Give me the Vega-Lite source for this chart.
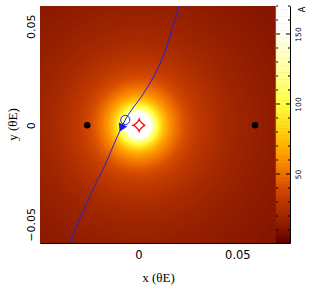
{
  "$schema": "https://vega.github.io/schema/vega-lite/v6.json",
  "width": 250,
  "height": 237,
  "autosize": {"type": "none"},
  "padding": {"left": 40, "top": 6, "right": 23, "bottom": 48},
  "background": "white",
  "config": {
    "view": {"stroke": "black", "strokeWidth": 1},
    "axis": {"domain": false, "grid": false, "ticks": false, "labelColor": "black", "titleColor": "black", "labelFont": "DejaVu Sans", "titleFont": "Liberation Serif", "titleFontWeight": "normal", "labelFlush": false}
  },
  "datasets": {
    "rings": [
      {"x":0,"y":0,"r":0.1,"A":10},{"x":0,"y":0,"r":0.0909,"A":11},{"x":0,"y":0,"r":0.0833,"A":12},{"x":0,"y":0,"r":0.0769,"A":13},{"x":0,"y":0,"r":0.0714,"A":14},{"x":0,"y":0,"r":0.0667,"A":15},{"x":0,"y":0,"r":0.0625,"A":16},{"x":0,"y":0,"r":0.0588,"A":17},{"x":0,"y":0,"r":0.0556,"A":18},{"x":0,"y":0,"r":0.0526,"A":19},{"x":0,"y":0,"r":0.05,"A":20},{"x":0,"y":0,"r":0.0476,"A":21},{"x":0,"y":0,"r":0.0455,"A":22},{"x":0,"y":0,"r":0.0435,"A":23},{"x":0,"y":0,"r":0.0417,"A":24},{"x":0,"y":0,"r":0.04,"A":25},{"x":0,"y":0,"r":0.0385,"A":26},{"x":0,"y":0,"r":0.037,"A":27},{"x":0,"y":0,"r":0.0357,"A":28},{"x":0,"y":0,"r":0.0345,"A":29},{"x":0,"y":0,"r":0.0333,"A":30},{"x":0,"y":0,"r":0.0313,"A":32},{"x":0,"y":0,"r":0.0294,"A":34},{"x":0,"y":0,"r":0.0278,"A":36},{"x":0,"y":0,"r":0.0263,"A":38},{"x":0,"y":0,"r":0.025,"A":40},{"x":0,"y":0,"r":0.0238,"A":42},{"x":0,"y":0,"r":0.0227,"A":44},{"x":0,"y":0,"r":0.0217,"A":46},{"x":0,"y":0,"r":0.0208,"A":48},{"x":0,"y":0,"r":0.02,"A":50},{"x":0,"y":0,"r":0.0192,"A":52},{"x":0,"y":0,"r":0.0185,"A":54},{"x":0,"y":0,"r":0.0179,"A":56},{"x":0,"y":0,"r":0.0172,"A":58},{"x":0,"y":0,"r":0.0167,"A":60},{"x":0,"y":0,"r":0.0159,"A":63},{"x":0,"y":0,"r":0.0152,"A":66},{"x":0,"y":0,"r":0.0145,"A":69},{"x":0,"y":0,"r":0.0139,"A":72},{"x":0,"y":0,"r":0.0133,"A":75},{"x":0,"y":0,"r":0.0128,"A":78},{"x":0,"y":0,"r":0.0123,"A":81},{"x":0,"y":0,"r":0.0119,"A":84},{"x":0,"y":0,"r":0.0115,"A":87},{"x":0,"y":0,"r":0.0111,"A":90},{"x":0,"y":0,"r":0.0106,"A":94},{"x":0,"y":0,"r":0.0102,"A":98},{"x":0,"y":0,"r":0.0098,"A":102},{"x":0,"y":0,"r":0.0094,"A":106},{"x":0,"y":0,"r":0.0091,"A":110},{"x":0,"y":0,"r":0.0087,"A":115},{"x":0,"y":0,"r":0.0083,"A":120},{"x":0,"y":0,"r":0.008,"A":125},{"x":0,"y":0,"r":0.0077,"A":130},{"x":0,"y":0,"r":0.0074,"A":136},{"x":0,"y":0,"r":0.007,"A":142},{"x":0,"y":0,"r":0.0068,"A":148},{"x":0,"y":0,"r":0.0065,"A":155},{"x":0,"y":0,"r":0.0062,"A":162},{"x":0,"y":0,"r":0.0059,"A":170}
    ],
    "traj": [
      {"x":-0.0358,"y":-0.062},{"x":-0.03485,"y":-0.0596},{"x":-0.02919,"y":-0.04631},{"x":-0.02465,"y":-0.03621},{"x":-0.02061,"y":-0.02763},{"x":-0.01682,"y":-0.02005},{"x":-0.01354,"y":-0.01247},{"x":-0.01136,"y":-0.00742},{"x":-0.00909,"y":-0.00237},{"x":-0.00662,"y":0.00268},{"x":-0.00343,"y":0.00773},{"x":0.00035,"y":0.01278},{"x":0.00465,"y":0.01934},{"x":0.00944,"y":0.02793},{"x":0.01374,"y":0.038},{"x":0.01727,"y":0.04965},{"x":0.0203,"y":0.06025},{"x":0.0206,"y":0.062}
    ],
    "caus": [
      {"i":0,"x":0.0035,"y":0},{"i":1,"x":0.0028,"y":0.00025},{"i":2,"x":0.00164,"y":0.00124},{"i":3,"x":0.00065,"y":0.0024},{"i":4,"x":0.0004,"y":0.0031},{"i":5,"x":0.00015,"y":0.0024},{"i":6,"x":-0.00084,"y":0.00124},{"i":7,"x":-0.002,"y":0.00025},{"i":8,"x":-0.0027,"y":0},{"i":9,"x":-0.002,"y":-0.00025},{"i":10,"x":-0.00084,"y":-0.00124},{"i":11,"x":0.00015,"y":-0.0024},{"i":12,"x":0.0004,"y":-0.0031},{"i":13,"x":0.00065,"y":-0.0024},{"i":14,"x":0.00164,"y":-0.00124},{"i":15,"x":0.0028,"y":-0.00025},{"i":16,"x":0.0035,"y":0}
    ],
    "lens": [{"x":-0.0258,"y":0},{"x":0.0589,"y":0}],
    "src": [{"x":-0.0066,"y":0.0027}],
    "arr": [{"x":-0.0086,"y":-0.0014}],
    "xt": [{"x":-0.04},{"x":-0.03},{"x":-0.02},{"x":-0.01},{"x":0},{"x":0.01},{"x":0.02},{"x":0.03},{"x":0.04},{"x":0.05},{"x":0.06},{"x":0.07}],
    "yt": [{"y":-0.05},{"y":-0.04},{"y":-0.03},{"y":-0.02},{"y":-0.01},{"y":0},{"y":0.01},{"y":0.02},{"y":0.03},{"y":0.04},{"y":0.05}],
    "cbar": [
      {"a0":0,"a1":2.5,"a":1.25},{"a0":2.5,"a1":5,"a":3.75},{"a0":5,"a1":7.5,"a":6.25},{"a0":7.5,"a1":10,"a":8.75},{"a0":10,"a1":12.5,"a":11.25},{"a0":12.5,"a1":15,"a":13.75},{"a0":15,"a1":17.5,"a":16.25},{"a0":17.5,"a1":20,"a":18.75},{"a0":20,"a1":22.5,"a":21.25},{"a0":22.5,"a1":25,"a":23.75},{"a0":25,"a1":27.5,"a":26.25},{"a0":27.5,"a1":30,"a":28.75},{"a0":30,"a1":32.5,"a":31.25},{"a0":32.5,"a1":35,"a":33.75},{"a0":35,"a1":37.5,"a":36.25},{"a0":37.5,"a1":40,"a":38.75},{"a0":40,"a1":42.5,"a":41.25},{"a0":42.5,"a1":45,"a":43.75},{"a0":45,"a1":47.5,"a":46.25},{"a0":47.5,"a1":50,"a":48.75},{"a0":50,"a1":52.5,"a":51.25},{"a0":52.5,"a1":55,"a":53.75},{"a0":55,"a1":57.5,"a":56.25},{"a0":57.5,"a1":60,"a":58.75},{"a0":60,"a1":62.5,"a":61.25},{"a0":62.5,"a1":65,"a":63.75},{"a0":65,"a1":67.5,"a":66.25},{"a0":67.5,"a1":70,"a":68.75},{"a0":70,"a1":72.5,"a":71.25},{"a0":72.5,"a1":75,"a":73.75},{"a0":75,"a1":77.5,"a":76.25},{"a0":77.5,"a1":80,"a":78.75},{"a0":80,"a1":82.5,"a":81.25},{"a0":82.5,"a1":85,"a":83.75},{"a0":85,"a1":87.5,"a":86.25},{"a0":87.5,"a1":90,"a":88.75},{"a0":90,"a1":92.5,"a":91.25},{"a0":92.5,"a1":95,"a":93.75},{"a0":95,"a1":97.5,"a":96.25},{"a0":97.5,"a1":100,"a":98.75},{"a0":100,"a1":102.5,"a":101.25},{"a0":102.5,"a1":105,"a":103.75},{"a0":105,"a1":107.5,"a":106.25},{"a0":107.5,"a1":110,"a":108.75},{"a0":110,"a1":112.5,"a":111.25},{"a0":112.5,"a1":115,"a":113.75},{"a0":115,"a1":117.5,"a":116.25},{"a0":117.5,"a1":120,"a":118.75},{"a0":120,"a1":122.5,"a":121.25},{"a0":122.5,"a1":125,"a":123.75},{"a0":125,"a1":127.5,"a":126.25},{"a0":127.5,"a1":130,"a":128.75},{"a0":130,"a1":132.5,"a":131.25},{"a0":132.5,"a1":135,"a":133.75},{"a0":135,"a1":137.5,"a":136.25},{"a0":137.5,"a1":140,"a":138.75},{"a0":140,"a1":142.5,"a":141.25},{"a0":142.5,"a1":145,"a":143.75},{"a0":145,"a1":147.5,"a":146.25},{"a0":147.5,"a1":150,"a":148.75},{"a0":150,"a1":152.5,"a":151.25},{"a0":152.5,"a1":155,"a":153.75},{"a0":155,"a1":157.5,"a":156.25},{"a0":157.5,"a1":160,"a":158.75},{"a0":160,"a1":162.5,"a":161.25},{"a0":162.5,"a1":165,"a":163.75},{"a0":165,"a1":167.5,"a":166.25},{"a0":167.5,"a1":170,"a":168.75}
    ],
    "cbt": [{"a0":10},{"a0":20},{"a0":30},{"a0":40},{"a0":50},{"a0":60},{"a0":70},{"a0":80},{"a0":90},{"a0":100},{"a0":110},{"a0":120},{"a0":130},{"a0":140},{"a0":150},{"a0":160},{"a0":170}]
  },
  "layer": [
    {
      "encoding": {
        "x": {"field": "x", "type": "quantitative", "scale": {"domain": [-0.04965, 0.07657], "nice": false, "zero": false},
              "axis": {"orient": "bottom", "values": [0, 0.05], "format": ".2~f", "labelPadding": 6, "labelFontSize": 11.5, "title": "x (θE)", "titleFontSize": 13, "titleX": 118, "titleY": 34, "titleAlign": "center", "titleBaseline": "middle"}},
        "y": {"field": "y", "type": "quantitative", "scale": {"domain": [-0.05945, 0.06025], "nice": false, "zero": false},
              "axis": {"orient": "left", "values": [-0.05, 0, 0.05], "format": ".2~f", "labelAngle": -90, "labelAlign": "center", "labelBaseline": "bottom", "labelPadding": 4, "labelFontSize": 11, "title": "y (θE)", "titleFontSize": 13, "titleAngle": -90, "titleX": -28, "titleY": 118, "titleAlign": "center", "titleBaseline": "middle"}}
      },
      "layer": [
        {
          "data": {"name": "rings"},
          "mark": {"type": "circle", "clip": true, "opacity": 1, "strokeWidth": 0},
          "encoding": {
            "size": {"field": "r", "type": "quantitative", "scale": {"type": "pow", "exponent": 2, "domain": [0, 0.1], "range": [0, 156816]}, "legend": null},
            "color": {"field": "A", "type": "quantitative", "legend": null,
                      "scale": {"type": "linear", "interpolate": "rgb", "domain": [0.7, 12, 20, 30, 40, 50, 65, 80, 100, 120, 140, 155, 170],
                                "range": ["#5a0000", "#8a1800", "#a02600", "#bb3600", "#d44a00", "#ee6e00", "#ffa000", "#ffcf10", "#ffff40", "#ffff90", "#ffffd0", "#ffffff", "#ffffff"]}},
            "order": {"field": "r", "sort": "descending"}
          }
        },
        {
          "data": {"name": "caus"},
          "mark": {"type": "line", "color": "#ff0000", "strokeWidth": 1.3},
          "encoding": {"order": {"field": "i", "type": "quantitative"}}
        },
        {
          "data": {"name": "traj"},
          "mark": {"type": "line", "color": "#1f1fe6", "strokeWidth": 1, "clip": true, "interpolate": "monotone"},
          "encoding": {}
        },
        {
          "data": {"name": "lens"},
          "mark": {"type": "circle", "color": "black", "size": 42, "opacity": 1}
        },
        {
          "data": {"name": "src"},
          "mark": {"type": "point", "filled": false, "stroke": "#2222ee", "strokeWidth": 1, "size": 85, "opacity": 1}
        },
        {
          "data": {"name": "arr"},
          "mark": {"type": "point", "shape": "triangle-down", "filled": true, "color": "#1a1ae6", "size": 85, "angle": 25, "opacity": 1}
        },
        {
          "data": {"name": "xt"},
          "mark": {"type": "tick", "orient": "vertical", "color": "black", "thickness": 1, "clip": true, "opacity": 1},
          "encoding": {"y": {"datum": 0.06025}, "size": {"condition": {"test": "abs(datum.x*20-round(datum.x*20))<0.001", "value": 11}, "value": 6}}
        },
        {
          "data": {"name": "xt"},
          "mark": {"type": "tick", "orient": "vertical", "color": "black", "thickness": 1, "clip": true, "opacity": 1},
          "encoding": {"y": {"datum": -0.05945}, "size": {"condition": {"test": "abs(datum.x*20-round(datum.x*20))<0.001", "value": 11}, "value": 6}}
        },
        {
          "data": {"name": "yt"},
          "mark": {"type": "tick", "orient": "horizontal", "color": "black", "thickness": 1, "clip": true, "opacity": 1},
          "encoding": {"x": {"datum": -0.04965}, "size": {"condition": {"test": "abs(datum.y*20-round(datum.y*20))<0.001", "value": 11}, "value": 6}}
        },
        {
          "data": {"name": "yt"},
          "mark": {"type": "tick", "orient": "horizontal", "color": "black", "thickness": 1, "clip": true, "opacity": 1},
          "encoding": {"x": {"datum": 0.06955}, "size": {"condition": {"test": "abs(datum.y*20-round(datum.y*20))<0.001", "value": 11}, "value": 6}}
        }
      ]
    },
    {
      "encoding": {
        "y": {"field": "a0", "type": "quantitative", "scale": {"domain": [0.7, 170], "nice": false, "zero": false},
              "axis": {"orient": "right", "values": [50, 100, 150], "labelAngle": -90, "labelAlign": "center", "labelBaseline": "top", "labelPadding": 4, "labelFontSize": 7.5, "title": "A", "titleFont": "DejaVu Sans", "titleFontSize": 8, "titleAngle": -90, "titleX": 12, "titleY": 3, "titleAlign": "center", "titleBaseline": "middle"}}
      },
      "layer": [
        {
          "data": {"name": "cbar"},
          "mark": {"type": "rect", "clip": true, "strokeWidth": 0.6},
          "encoding": {
            "x": {"datum": 0.06955},
            "x2": {"datum": 0.07657},
            "y2": {"field": "a1"},
            "color": {"field": "a", "type": "quantitative", "legend": null,
                      "scale": {"type": "linear", "interpolate": "rgb", "domain": [0.7, 12, 20, 30, 40, 50, 65, 80, 100, 120, 140, 155, 170],
                                "range": ["#5a0000", "#8a1800", "#a02600", "#bb3600", "#d44a00", "#ee6e00", "#ffa000", "#ffcf10", "#ffff40", "#ffff90", "#ffffd0", "#ffffff", "#ffffff"]}},
            "stroke": {"field": "a", "type": "quantitative", "legend": null,
                      "scale": {"type": "linear", "interpolate": "rgb", "domain": [0.7, 12, 20, 30, 40, 50, 65, 80, 100, 120, 140, 155, 170],
                                "range": ["#5a0000", "#8a1800", "#a02600", "#bb3600", "#d44a00", "#ee6e00", "#ffa000", "#ffcf10", "#ffff40", "#ffff90", "#ffffd0", "#ffffff", "#ffffff"]}}
          }
        },
        {
          "data": {"values": [{}]},
          "mark": {"type": "rule", "color": "black", "strokeWidth": 1},
          "encoding": {"x": {"datum": 0.06955}, "y": {"datum": 0.7}, "y2": {"datum": 170}}
        },
        {
          "data": {"name": "cbt"},
          "transform": [{"filter": "datum.a0 % 50 == 0"}],
          "mark": {"type": "rule", "color": "black", "strokeWidth": 1},
          "encoding": {"x": {"datum": 0.06955}, "x2": {"datum": 0.0716}}
        },
        {
          "data": {"name": "cbt"},
          "transform": [{"filter": "datum.a0 % 50 != 0"}],
          "mark": {"type": "rule", "color": "black", "strokeWidth": 1},
          "encoding": {"x": {"datum": 0.06955}, "x2": {"datum": 0.07056}}
        },
        {
          "data": {"name": "cbt"},
          "transform": [{"filter": "datum.a0 % 50 == 0"}],
          "mark": {"type": "rule", "color": "black", "strokeWidth": 1},
          "encoding": {"x": {"datum": 0.07455}, "x2": {"datum": 0.07657}}
        },
        {
          "data": {"name": "cbt"},
          "transform": [{"filter": "datum.a0 % 50 != 0"}],
          "mark": {"type": "rule", "color": "black", "strokeWidth": 1},
          "encoding": {"x": {"datum": 0.07556}, "x2": {"datum": 0.07657}}
        }
      ]
    }
  ],
  "resolve": {"scale": {"y": "independent"}}
}
